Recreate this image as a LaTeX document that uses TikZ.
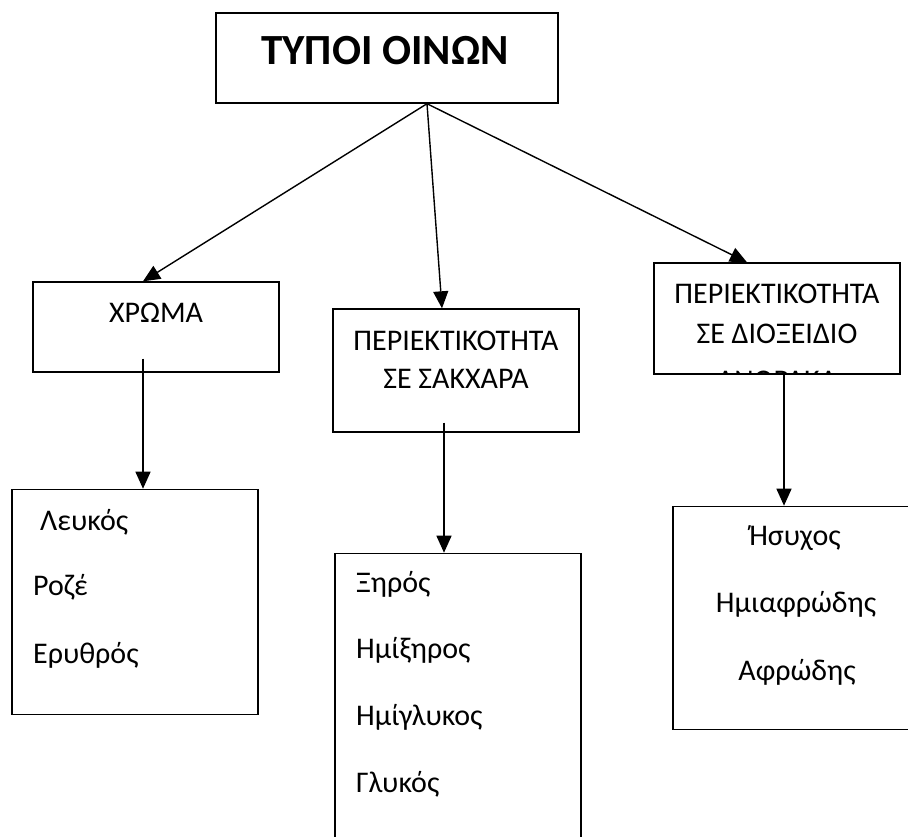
\documentclass[tikz,border=0pt]{standalone}
\usepackage{fontspec}
\setmainfont{Carlito}
\usetikzlibrary{arrows.meta, positioning}
\tikzset{kouti/.style={draw, rectangle, line width=1.4pt, inner sep=0pt, minimum width=246pt},
  velos/.style={-{Triangle[length=17pt, width=15pt]}, line width=1.4pt},
  keimeno/.style={font=\fontsize{30}{38}\selectfont, inner sep=0pt}}

\begin{document}
\begin{tikzpicture}[x=1pt, y=-1pt]
            \clip (0,0) rectangle (908,836);
            \node[kouti, minimum width=342pt, minimum height=90pt] (tipoi) at (387,58) {};
            \node[inner sep=0pt, anchor=base, font=\fontsize{43}{45}\selectfont\bfseries] (titlos) at (385,64) {ΤΥΠΟΙ ΟΙΝΩΝ};

            \node[kouti, minimum height=90pt] (xrwma) at (156,327) {};
            \node[keimeno, anchor=base] (xrwma-txt) at (156,322) {ΧΡΩΜΑ};
            \node[kouti, minimum height=123pt] (sakx) at (456,370.5) {};
            \node[keimeno, anchor=north, align=center] (sakx-txt) at (456,331) {ΠΕΡΙΕΚΤΙΚΟΤΗΤΑ\\ΣΕ ΣΑΚΧΑΡΑ};
            \node[kouti, minimum height=111pt] (dioks) at (777,318.5) {};
            \begin{scope}
              \clip (dioks.north west) rectangle (dioks.south east);
              \node[keimeno, anchor=north, align=center, font=\fontsize{30}{40}\selectfont] (dioks-txt) at (777,284) {ΠΕΡΙΕΚΤΙΚΟΤΗΤΑ\\ΣΕ ΔΙΟΞΕΙΔΙΟ\\[7pt]ΑΝΘΡΑΚΑ};
            \end{scope}

            \coordinate (apo) at ([xshift=40pt]tipoi.south);
            \draw[velos] (apo) -- ([xshift=-13pt]xrwma.north);
            \draw[velos] (apo) -- ([xshift=-14pt]sakx.north);
            \draw[velos] (apo) -- ([xshift=-30pt]dioks.north);

            \node[kouti, minimum height=225pt, below=116pt of xrwma, xshift=-21pt] (xrwmata) {};
            \node[keimeno, anchor=base west] (leukos) at (40,530) {Λευκός};
            \node[keimeno, anchor=base west] (roze) at (33,595) {Ροζέ};
            \node[keimeno, anchor=base west] (erythros) at (33,663) {Ερυθρός};
            \draw[velos] ([xshift=-13pt, yshift=14pt]xrwma.south) -- ([xshift=8pt]xrwmata.north);

            \node[kouti, minimum height=400pt, below=120pt of sakx, xshift=2pt] (glykytita) {};
            \node[keimeno, anchor=base west] (xiros) at (356,592) {Ξηρός};
            \node[keimeno, anchor=base west] (imixiros) at (356,658) {Ημίξηρος};
            \node[keimeno, anchor=base west] (imiglykos) at (356,725) {Ημίγλυκος};
            \node[keimeno, anchor=base west] (glykos) at (356,792) {Γλυκός};
            \draw[velos] ([xshift=-12pt, yshift=10pt]sakx.south) -- ([xshift=-14pt]glykytita.north);

            \node[kouti, minimum height=223pt, below=131pt of dioks, xshift=19pt] (afros) {};
            \node[keimeno, anchor=base] (isyxos) at (795,545) {Ήσυχος};
            \node[keimeno, anchor=base] (imiafrodis) at (796,612) {Ημιαφρώδης};
            \node[keimeno, anchor=base] (afrodis) at (797,680) {Αφρώδης};
            \draw[velos] ([xshift=7pt]dioks.south) -- ([xshift=-12pt]afros.north);
      \end{tikzpicture}
\end{document}
